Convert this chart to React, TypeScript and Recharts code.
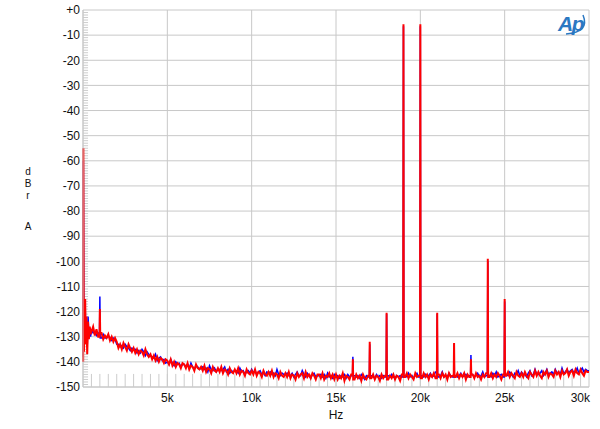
import { LineChart, Line, XAxis, YAxis, CartesianGrid, ReferenceLine } from "recharts";

// FFT spectrum, two channels (blue = left, red = right), dBrA vs Hz

// low-frequency points, read individually
const lowFreqHz = [10, 20, 40, 60, 80, 100, 130, 160, 200, 250, 300, 350, 400, 450];
const lowRed = [-140, -55, -112, -136, -118, -130, -115, -133, -122, -137, -124, -131, -126, -129];
const lowBlue = [-138, -60, -113, -134, -120, -128, -117, -131, -124, -134, -122, -130, -127, -130];

// noise floor, 100 Hz bins from 500 Hz to 30 kHz (one line per kHz)
const FLOOR_START_HZ = 500;
const BIN_HZ = 100;

const redFloor = [
  -128, -126, -129.5, -127, -130,
  -130, -128.5, -131, -129.5, -130.5, -129, -131.5, -130, -132, -130.5,
  -132, -134.5, -133, -135, -132.5, -134, -135.5, -133, -134.5, -136,
  -134.5, -136.5, -135, -137, -135.5, -136, -137.5, -135, -137, -138,
  -137, -139, -137.5, -139.5, -138, -140, -138.5, -139, -140.5, -139,
  -139.5, -141, -139, -141.5, -140, -142, -140.5, -141, -142.5, -140.5,
  -141, -142.5, -140.5, -143, -141.5, -142, -143.5, -141, -142.5, -143,
  -142, -143.5, -141.5, -144, -142.5, -143, -144.5, -142, -143.5, -144,
  -142.5, -144, -142, -144.5, -143, -143.5, -145, -142.5, -144, -144.5,
  -143, -144.5, -142.5, -145, -143.5, -144, -145.5, -143, -144.5, -145,
  -143.5, -145, -143, -145.5, -144, -144.5, -146, -143.5, -145, -145.5,
  -144, -145.5, -143.5, -146, -144.5, -145, -146.5, -144, -145.5, -146,
  -144.5, -146, -144, -146.5, -145, -145.5, -147, -144.5, -146, -145,
  -144.5, -146.5, -144, -146, -145, -146.5, -144.5, -145.5, -147, -145,
  -145, -146.5, -144.5, -147, -145.5, -146, -144.5, -146.5, -145, -147,
  -145, -147, -145.5, -146.5, -144.5, -147.5, -145.5, -146, -147, -145,
  -146, -147, -145, -146.5, -145.5, -147.5, -145, -146.5, -147, -145.5,
  -146, -146.5, -145, -147, -145.5, -146, -147.5, -145, -146.5, -145.5,
  -146, -147, -145.5, -146.5, -145, -147, -145.5, -146, -147.5, -145,
  -146, -146, -144.5, -146.5, -145, -146, -147, -144.5, -146, -145.5,
  -146, -146.5, -144.5, -146, -145, -147, -145, -146, -144.5, -146.5,
  -146, -145, -146.5, -144.5, -146, -145, -147, -144.5, -146, -145.5,
  -146, -146, -144.5, -146.5, -145, -146, -144.5, -147, -145, -146,
  -146, -145, -146.5, -144.5, -146, -145.5, -147, -145, -146, -144.5,
  -146, -146, -144.5, -146.5, -145, -146, -144.5, -145.5, -147, -145,
  -145, -145.5, -144, -146, -144.5, -145.5, -146.5, -144, -145.5, -146,
  -144.5, -146, -144, -145.5, -146.5, -144, -145, -146, -143.5, -145.5,
  -144, -145.5, -146.5, -144, -145, -143.5, -146, -144.5, -145, -146,
  -143.5, -145, -144, -146, -143.5, -145, -144.5, -143, -145.5, -144,
  -143.5, -145.5, -143, -144.5, -145, -143, -144.5, -145.5, -143.5, -144,
  -144,
];

const blueFloor = [
  -127.5, -128.5, -128, -129.5, -128.5,
  -129.5, -130.5, -129, -130.5, -130.5, -129.5, -130.5, -131.5, -130.5, -131,
  -133, -133, -134, -133.5, -134.5, -133, -134, -134.5, -135.5, -134.5,
  -135, -135, -136.5, -135.5, -136.5, -135, -136, -137.5, -136, -137,
  -137.5, -138, -138.5, -137, -139.5, -138.5, -138, -139.5, -139, -140.5,
  -140, -141, -139, -140.5, -141.5, -140, -141, -140.5, -142, -141,
  -141, -142, -141, -142.5, -140.5, -142, -143, -141.5, -142, -143,
  -142.5, -142, -143, -142.5, -144, -141.5, -143, -143.5, -142.5, -144,
  -143, -143, -143.5, -143, -142, -144, -143, -144.5, -143.5, -144,
  -143.5, -143.5, -144.5, -142.5, -144, -143.5, -145, -144, -143.5, -144.5,
  -143, -144.5, -143.5, -145, -144, -143.5, -145, -144.5, -145.5, -144,
  -144.5, -144, -145, -144.5, -145.5, -143, -145, -145.5, -144.5, -145,
  -145, -144.5, -145.5, -145.5, -144.5, -146, -145, -144, -145.5, -145.5,
  -143.5, -145, -146, -144.5, -145.5, -146.5, -145, -144.5, -146, -145.5,
  -145.5, -145, -146, -145, -146.5, -144.5, -146, -145.5, -146.5, -145,
  -146, -145.5, -146.5, -145.5, -146, -145, -146.5, -145, -146, -145.5,
  -146, -145.5, -146, -145.5, -146.5, -145, -146, -147, -145.5, -146,
  -146, -145.5, -146, -146.5, -145, -146, -145.5, -146.5, -145.5, -146,
  -146, -145.5, -146, -145, -146, -146.5, -145.5, -146, -145.5, -146,
  -146, -145.5, -146, -144.5, -146, -145.5, -146.5, -145.5, -144.5, -146,
  -146, -145.5, -146, -145, -146, -145.5, -144.5, -146, -145.5, -144,
  -146, -146, -145.5, -144, -146, -145.5, -146, -144.5, -145.5, -146,
  -146, -145.5, -146, -145.5, -144.5, -146, -145.5, -145, -146, -145.5,
  -146, -145, -146, -145.5, -144.5, -146, -145.5, -144, -146, -145.5,
  -146, -145.5, -146, -144.5, -145.5, -144, -146, -145.5, -145, -146,
  -145.5, -145, -145.5, -144, -145, -146, -144.5, -145, -143.5, -145.5,
  -144, -145, -145, -146, -144.5, -143.5, -145.5, -145, -143, -145,
  -145, -144.5, -143.5, -145.5, -144.5, -143, -145, -144.5, -144, -145,
  -143, -144.5, -144, -145, -142.5, -144.5, -144, -143, -144.5, -143.5,
  -143, -144.5, -144, -142.5, -144.5, -143.5, -142.5, -144, -143, -143.5,
  -143.5,
];

// discrete tones and spurs
const toneHz = [1000, 16000, 17000, 18000, 19000, 20000, 21000, 22000, 23000, 24000, 25000];
const toneRed = [-119, -139, -132, -120.5, -5.7, -5.7, -120.5, -132.5, -139, -99, -115];
const toneBlue = [-114, -138, -133, -121, -6.5, -6.5, -121, -133, -137.3, -100, -116];

const xTicks = [5000, 10000, 15000, 20000, 25000, 30000];
const yTicks = [-150, -140, -130, -120, -110, -100, -90, -80, -70, -60, -50, -40, -30, -20, -10, 0];

// unlabelled minor ticks: every 500 Hz along the bottom, every 1 dB up the left side
const xMinorTicks = Array.from({ length: 59 }, (_, i) => 500 + i * 500);
const yMinorTicks = Array.from({ length: 149 }, (_, i) => -149 + i);
const X_MINOR_LEN_DB = 5.2;
const Y_MINOR_LEN_HZ = 300;

type Row = { hz: number; red: number; blue: number };

const rows: Row[] = [];
lowFreqHz.forEach((hz, i) => rows.push({ hz, red: lowRed[i], blue: lowBlue[i] }));
redFloor.forEach((v, i) => {
  rows.push({ hz: FLOOR_START_HZ + i * BIN_HZ, red: v, blue: blueFloor[i] });
});
// tones sit in a single bin; the skirts just beside it keep the neighbouring floor level
toneHz.forEach((hz, i) => {
  const row = rows.find((r) => r.hz === hz);
  const before = rows.find((r) => r.hz === hz - BIN_HZ);
  const after = rows.find((r) => r.hz === hz + BIN_HZ);
  if (row) {
    row.red = toneRed[i];
    row.blue = toneBlue[i];
  }
  if (before) rows.push({ hz: hz - 20, red: before.red, blue: before.blue });
  if (after) rows.push({ hz: hz + 20, red: after.red, blue: after.blue });
});
rows.sort((a, b) => a.hz - b.hz);

const FONT = '"Liberation Sans", Arial, sans-serif';
const GRID = "#c8c8c8";
const MINOR = "#cccccc";

function XTick(props: any) {
  const { x, y, payload } = props;
  const last = payload.value === 30000;
  return (
    <text
      x={last ? x + 1 : x}
      y={y}
      dy="0.71em"
      textAnchor={last ? "end" : "middle"}
      fontSize={12}
      fontFamily={FONT}
      fill="#111"
    >
      {payload.value / 1000}k
    </text>
  );
}

export default function App() {
  return (
    <div style={{ position: "absolute", left: 0, top: 0, width: 600, height: 429, background: "#fff" }}>
      <LineChart width={600} height={429} data={rows} margin={{ top: 10, right: 11, bottom: 0, left: 0 }}>
        <CartesianGrid stroke={GRID} strokeWidth={1} />
        <XAxis
          dataKey="hz"
          type="number"
          domain={[0, 30000]}
          ticks={xTicks}
          interval={0}
          height={42}
          axisLine={{ stroke: GRID }}
          tickLine={false}
          tickSize={0}
          tickMargin={6}
          tick={<XTick />}
          label={{ value: "Hz", position: "insideBottom", offset: 10, fontSize: 12, fontFamily: FONT, fill: "#111" }}
        />
        <YAxis
          type="number"
          domain={[-150, 0]}
          ticks={yTicks}
          interval={0}
          width={83}
          axisLine={{ stroke: GRID }}
          tickLine={false}
          tickSize={0}
          tickMargin={3}
          tickFormatter={(v: number) => (v === 0 ? "+0" : String(v))}
          tick={{ fontSize: 12, fontFamily: FONT, fill: "#111" }}
        />
        {xMinorTicks.map((f) => (
          <ReferenceLine
            key={`xm${f}`}
            segment={[
              { x: f, y: -150 },
              { x: f, y: -150 + X_MINOR_LEN_DB },
            ]}
            stroke={MINOR}
            strokeWidth={1}
          />
        ))}
        {yMinorTicks.map((v) => (
          <ReferenceLine
            key={`ym${v}`}
            segment={[
              { x: 0, y: v },
              { x: Y_MINOR_LEN_HZ, y: v },
            ]}
            stroke={MINOR}
            strokeWidth={1}
          />
        ))}
        <Line
          dataKey="blue"
          stroke="#0000ff"
          strokeWidth={1.5}
          dot={false}
          isAnimationActive={false}
        />
        <Line
          dataKey="red"
          stroke="#ff0000"
          strokeWidth={2}
          dot={false}
          isAnimationActive={false}
        />
      </LineChart>
      <svg
        width={600}
        height={429}
        style={{ position: "absolute", left: 0, top: 0, pointerEvents: "none" }}
      >
        <text textAnchor="middle" fontSize={10} fontFamily={FONT} fill="#111">
          <tspan x={28} y={175}>d</tspan>
          <tspan x={28} y={187}>B</tspan>
          <tspan x={28} y={199}>r</tspan>
          <tspan x={28} y={230}>A</tspan>
        </text>
        <text
          x={558}
          y={31}
          fontSize={21}
          fontStyle="italic"
          fontWeight="bold"
          fontFamily={FONT}
          fill="#2b78c2"
          letterSpacing={-1.5}
        >
          Ap
        </text>
        <path d="M 566 34 Q 590 32 583 15" stroke="#2b78c2" strokeWidth={1.5} fill="none" />
      </svg>
    </div>
  );
}
